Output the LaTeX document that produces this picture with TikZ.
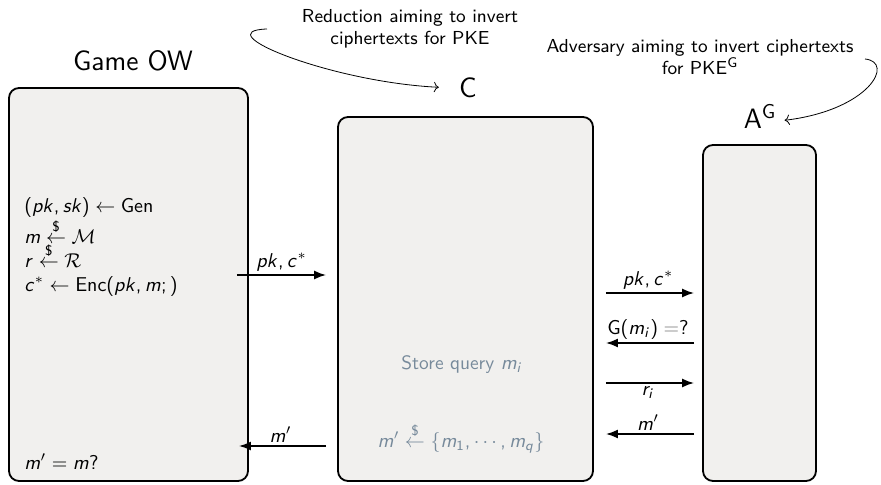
\documentclass[tikz,border=0pt]{standalone}
\usetikzlibrary{fit,arrows.meta}
\renewcommand{\familydefault}{\sfdefault}
% sans math as in the slides
\DeclareSymbolFont{sfit}{OT1}{cmss}{m}{sl}
\SetSymbolFont{operators}{normal}{OT1}{cmss}{m}{n}
\DeclareMathSymbol{c}{\mathalpha}{sfit}{`c}
\DeclareMathSymbol{i}{\mathalpha}{sfit}{`i}
\DeclareMathSymbol{k}{\mathalpha}{sfit}{`k}
\DeclareMathSymbol{m}{\mathalpha}{sfit}{`m}
\DeclareMathSymbol{p}{\mathalpha}{sfit}{`p}
\DeclareMathSymbol{q}{\mathalpha}{sfit}{`q}
\DeclareMathSymbol{r}{\mathalpha}{sfit}{`r}
\DeclareMathSymbol{s}{\mathalpha}{sfit}{`s}
\DeclareMathSymbol{,}{\mathpunct}{operators}{`,}
\definecolor{boxgray}{RGB}{241,240,238}
\definecolor{query}{RGB}{119,138,155}
\begin{document}
\begin{tikzpicture}[
	x=0.5pt, y=-0.5pt,
	box/.style={draw=black, fill=boxgray, line width=0.9pt, rounded corners=5pt, inner sep=0pt},
	title/.style={font=\fontsize{14}{17}\selectfont, inner sep=0pt},
	note/.style={font=\fontsize{9.4}{11.3}\selectfont, align=center, inner sep=0pt},
	lbl/.style={font=\fontsize{9.7}{12}\selectfont, inner sep=1.5pt},
	msg/.style={>={Latex[length=6pt,width=4.5pt]}, draw=black, line width=0.9pt, ->},
	curv/.style={->, line width=0.4pt},
	]
	\useasboundingbox (0,0) rectangle (881,485);
	% the three parties
	\node[box, fit={(9,88) (248,481)}] (game) {};
	\node[box, fit={(338,117) (593,481)}] (red) {};
	\node[box, fit={(703,145) (816,481)}] (adv) {};
	\node[title, anchor=base] (gametitle) at (133,71) {Game OW};
	\node[title, anchor=base] (redtitle) at (468,98) {C};
	\node[title, anchor=base] (advtitle) at (760,129) {A$^{\mathrm{G}}$};
	% side notes
	\node[note] (rednote) at (410,29) {Reduction aiming to invert\\ ciphertexts for PKE};
	\node[note] (advnote) at (700,57) {Adversary aiming to invert ciphertexts\\ for PKE$^{\mathrm{G}}$};
	\coordinate (redtail) at (267,29);
	\coordinate (advtail) at (865,59);
	\draw[curv, shorten >=10pt] (redtail) .. controls (205,31) and (330,82) .. (redtitle.west);
	\draw[curv, shorten >=4pt] (advtail) .. controls (895,62) and (870,110) .. (advtitle.-15);
	% inside the boxes
	\node[lbl, anchor=north west, align=left, inner sep=0pt] (gensteps) at (24,197)
		{$(pk, sk) \leftarrow \mathrm{Gen}$\\ $m \stackrel{\$}{\leftarrow} \mathcal{M}$\\
		 $r \stackrel{\$}{\leftarrow} \mathcal{R}$\\ $c^* \leftarrow \mathrm{Enc}(pk, m; )$};
	\node[lbl, anchor=base west, inner sep=0pt] (check) at (24,469) {$m' = m?$};
	\node[lbl, text=query, anchor=base] (store) at (462,370) {Store query $m_i$};
	\node[lbl, text=query, anchor=base] (pick) at (461,447) {$m' \stackrel{\$}{\leftarrow} \{m_1, \cdots, m_q\}$};
	% messages
	\coordinate (row1) at (0,275);
	\coordinate (row2) at (0,446);
	\coordinate (row3) at (0,293);
	\coordinate (row4) at (0,343);
	\coordinate (row5) at (0,383);
	\coordinate (row6) at (0,434);
	\draw[msg, shorten <=-6pt, shorten >=5.5pt] (game.east |- row1) -- node[lbl, above, pos=0.37] (m1) {$pk, c^*$} (red.west |- row1);
	\draw[msg, shorten <=5.5pt, shorten >=-5pt] (red.west |- row2) -- node[lbl, above, pos=0.64] (m2) {$m'$} (game.east |- row2);
	\draw[msg, shorten <=6pt, shorten >=4pt] (red.east |- row3) -- node[lbl, above] (m3) {$pk, c^*$} (adv.west |- row3);
	\draw[msg, shorten <=4pt, shorten >=6pt] (adv.west |- row4) -- node[lbl, above] (m4) {$\mathrm{G}(m_i) \mathrel{\color{gray}=}?$} (red.east |- row4);
	\draw[msg, shorten <=6pt, shorten >=4pt] (red.east |- row5) -- node[lbl, below] (m5) {$r_i$} (adv.west |- row5);
	\draw[msg, shorten <=4pt, shorten >=6pt] (adv.west |- row6) -- node[lbl, above] (m6) {$m'$} (red.east |- row6);
\end{tikzpicture}
\end{document}
